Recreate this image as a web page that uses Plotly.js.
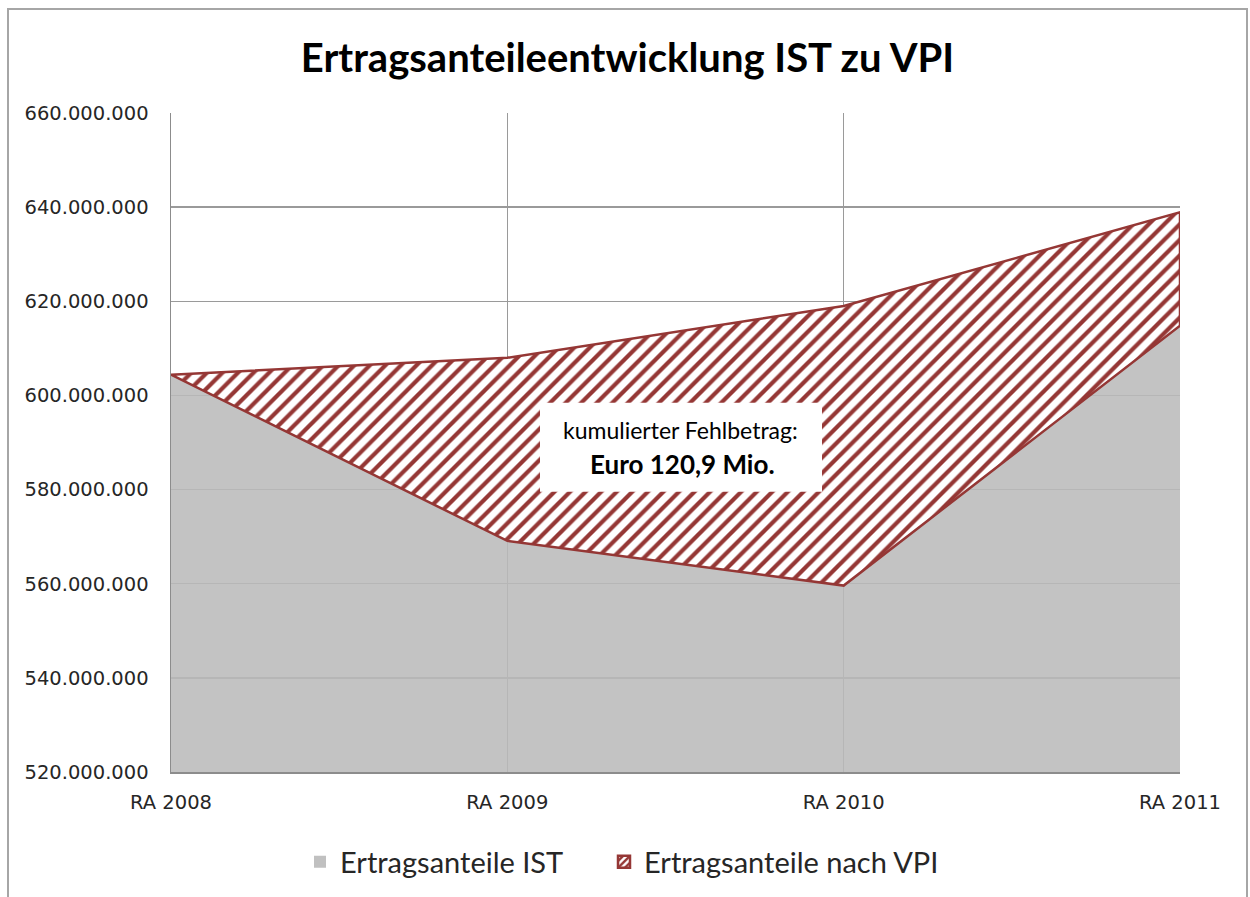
<!DOCTYPE html>
<html>
<head>
<meta charset="utf-8">
<script src="https://cdn.plot.ly/plotly-3.0.1.min.js"></script>
<style>
  html, body { margin: 0; padding: 0; background: #ffffff; overflow: hidden; }
  #chart { width: 1250px; height: 897px; }
  #frame { position: absolute; left: 7px; top: 8px; width: 1241px; height: 910px;
           border: 2px solid #a6a6a6; box-sizing: border-box; pointer-events: none; }
</style>
</head>
<body>
<div id="chart"></div>
<div id="frame"></div>
<script>
// ---- data ----
const categories = ["RA 2008", "RA 2009", "RA 2010", "RA 2011"];
const valuesIST  = [604400000, 569100000, 559600000, 614800000];
const valuesVPI  = [604400000, 608000000, 619000000, 638900000];
const yTickValues = [520000000, 540000000, 560000000, 580000000, 600000000, 620000000, 640000000, 660000000];
const chartTitle = "Ertragsanteileentwicklung IST zu VPI";
const seriesNames = ["Ertragsanteile IST", "Ertragsanteile nach VPI"];
const noteLine1 = "kumulierter Fehlbetrag:";
const noteLine2 = "Euro 120,9 Mio.";

const RED = "#953735";
const GRAY_FILL = "rgba(186,186,186,0.87)";
const TEXT_FONT = "Lato, 'Open Sans', sans-serif";
const TICK_FONT = "'DejaVu Sans', sans-serif";

// closed polygon for the VPI band: along VPI forward, back along IST
const bandX = categories.concat(categories.slice().reverse());
const bandY = valuesVPI.concat(valuesIST.slice().reverse());

const traces = [
  {
    type: "scatter", mode: "none", name: seriesNames[0], showlegend: false,
    x: categories, y: valuesIST,
    fill: "tozeroy", fillcolor: GRAY_FILL,
    hoverinfo: "skip"
  },
  {
    type: "scatter", mode: "lines", name: seriesNames[1], showlegend: false,
    x: bandX, y: bandY,
    fill: "toself", fillcolor: "white",
    fillpattern: { shape: "/", fgcolor: RED, bgcolor: "white", size: 11, solidity: 0.38 },
    line: { color: RED, width: 2.5 },
    hoverinfo: "skip"
  },
  // legend entries (square swatches as in the reference), no visible marks
  {
    type: "bar", name: seriesNames[0], x: [categories[0]], y: [null],
    legend: "legend",
    marker: { color: "#c0c0c0", line: { width: 0 } },
    hoverinfo: "skip"
  },
  {
    type: "bar", name: seriesNames[1], x: [categories[0]], y: [null],
    legend: "legend2",
    marker: { color: "white", line: { color: RED, width: 2.5 },
              pattern: { shape: "/", fgcolor: RED, bgcolor: "white", size: 6, solidity: 0.5 } },
    hoverinfo: "skip"
  }
];

const legendFont = { family: TEXT_FONT, size: 29, color: "#262626" };

const layout = {
  width: 1250, height: 897,
  paper_bgcolor: "white", plot_bgcolor: "white",
  separators: ",.",
  margin: { l: 171, r: 70, t: 113, b: 125 },
  showlegend: true,
  title: {
    text: "<b>" + chartTitle + "</b>",
    font: { family: TEXT_FONT, size: 40, color: "#000000" },
    xref: "container", x: 0.502, xanchor: "center",
    yref: "container", y: 1 - 58 / 897, yanchor: "middle"
  },
  xaxis: {
    type: "category",
    categoryorder: "array", categoryarray: categories,
    range: [0, categories.length - 1],
    showgrid: true, gridcolor: "#9a9a9a", gridwidth: 1.5,
    showline: true, linecolor: "#8c8c8c", linewidth: 1.5,
    ticks: "", ticklabelstandoff: 12,
    tickfont: { family: TICK_FONT, size: 19.5, color: "#262626" },
    zeroline: false, fixedrange: true
  },
  yaxis: {
    range: [520000000, 660000000],
    tickmode: "array", tickvals: yTickValues,
    tickformat: ",d",
    showgrid: true, gridcolor: "#9a9a9a", gridwidth: 1.5,
    showline: true, linecolor: "#8c8c8c", linewidth: 1.5,
    ticks: "", ticklabelstandoff: 17,
    tickfont: { family: TICK_FONT, size: 19.5, color: "#262626" },
    zeroline: false, fixedrange: true
  },
  legend: {
    orientation: "h",
    xref: "container", x: 300 / 1250, xanchor: "left",
    yref: "container", y: 1 - 862 / 897, yanchor: "middle",
    font: legendFont, bgcolor: "rgba(0,0,0,0)"
  },
  legend2: {
    orientation: "h",
    xref: "container", x: 604 / 1250, xanchor: "left",
    yref: "container", y: 1 - 862 / 897, yanchor: "middle",
    font: legendFont, bgcolor: "rgba(0,0,0,0)"
  },
  shapes: [
    {
      type: "rect", xref: "paper", yref: "paper", layer: "above",
      x0: (540 - 171) / 1009, x1: (822 - 171) / 1009,
      y0: (772.5 - 492) / 659.5, y1: (772.5 - 403) / 659.5,
      fillcolor: "white", line: { width: 0 }
    }
  ],
  annotations: [
    {
      xref: "paper", yref: "paper",
      x: (680 - 171) / 1009, y: (772.5 - 430) / 659.5,
      xanchor: "center", yanchor: "middle", showarrow: false,
      text: noteLine1,
      font: { family: TEXT_FONT, size: 23, color: "#000000" }
    },
    {
      xref: "paper", yref: "paper",
      x: (682 - 171) / 1009, y: (772.5 - 464) / 659.5,
      xanchor: "center", yanchor: "middle", showarrow: false,
      text: "<b>" + noteLine2 + "</b>",
      font: { family: TEXT_FONT, size: 26, color: "#000000" }
    }
  ]
};

Plotly.newPlot("chart", traces, layout, { displayModeBar: false, staticPlot: true });
</script>
</body>
</html>
